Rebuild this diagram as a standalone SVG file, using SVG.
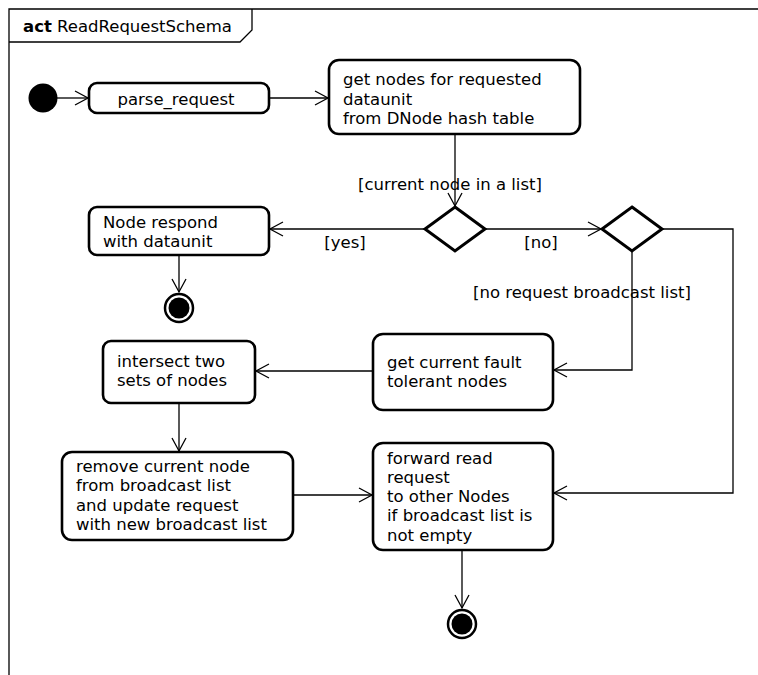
<svg xmlns="http://www.w3.org/2000/svg" width="758" height="675" viewBox="0 0 758 675">
<style>
.frame{fill:none;stroke:#000;stroke-width:1.3}
.box{fill:#fff;stroke:#000;stroke-width:2.6}
.dia{fill:#fff;stroke:#000;stroke-width:3}
.edge{fill:none;stroke:#000;stroke-width:1.3}
text{font-family:"DejaVu Sans",sans-serif;font-size:16.5px;fill:#000}
.c{text-anchor:middle}
</style>
<defs>
<marker id="arr" markerUnits="userSpaceOnUse" markerWidth="30" markerHeight="30" refX="14" refY="8" orient="auto">
<path d="M1,1 L14,8 L1,15" fill="none" stroke="#000" stroke-width="1.3"/>
</marker>
</defs>
<g id="frame">
<path class="frame" d="M9,675 V9 H758"/>
<path class="frame" d="M9,42 H240 L252,30 V9"/>
<text x="23" y="32"><tspan font-weight="bold">act</tspan> ReadRequestSchema</text>
</g>
<g id="connectors">
<path class="edge" d="M57,98 H88" marker-end="url(#arr)"/>
<path class="edge" d="M269,98 H328" marker-end="url(#arr)"/>
<path class="edge" d="M455,134 V206" marker-end="url(#arr)"/>
<path class="edge" d="M425,229 H270" marker-end="url(#arr)"/>
<path class="edge" d="M485,229 H601" marker-end="url(#arr)"/>
<path class="edge" d="M179,255 V292" marker-end="url(#arr)"/>
<path class="edge" d="M662,229 H733 V493 H554" marker-end="url(#arr)"/>
<path class="edge" d="M632,251 V370 H554" marker-end="url(#arr)"/>
<path class="edge" d="M373,371 H256" marker-end="url(#arr)"/>
<path class="edge" d="M179,403 V451" marker-end="url(#arr)"/>
<path class="edge" d="M293,495 H372" marker-end="url(#arr)"/>
<path class="edge" d="M462,550 V608" marker-end="url(#arr)"/>
<text class="c" x="450" y="190">[current node in a list]</text>
<text class="c" x="345" y="248">[yes]</text>
<text class="c" x="541" y="248">[no]</text>
<text class="c" x="582" y="298">[no request broadcast list]</text>
</g>
<g id="initial"><circle cx="43" cy="98" r="14.5" fill="#000"/></g>
<g id="parse_request">
<rect class="box" x="89" y="83" width="180" height="30" rx="8"/>
<text class="c" x="176" y="105">parse_request</text>
</g>
<g id="get_nodes">
<rect class="box" x="329" y="60" width="251" height="74" rx="10"/>
<text x="343" y="85">get nodes for requested</text>
<text x="343" y="105">dataunit</text>
<text x="343" y="124">from DNode hash table</text>
</g>
<g id="decision1"><path class="dia" d="M455,207 L485,229 L455,251 L425,229 Z"/></g>
<g id="decision2"><path class="dia" d="M632,207 L662,229 L632,251 L602,229 Z"/></g>
<g id="node_respond">
<rect class="box" x="89" y="207" width="180" height="48" rx="8"/>
<text x="103" y="228">Node respond</text>
<text x="103" y="247">with dataunit</text>
</g>
<g id="final1">
<circle cx="179" cy="308" r="14" fill="#fff" stroke="#000" stroke-width="2.5"/>
<circle cx="179" cy="308" r="10.5" fill="#000"/>
</g>
<g id="get_fault_tolerant">
<rect class="box" x="373" y="334" width="180" height="76" rx="10"/>
<text x="387" y="368">get current fault</text>
<text x="387" y="387">tolerant nodes</text>
</g>
<g id="intersect">
<rect class="box" x="103" y="341" width="152" height="62" rx="8"/>
<text x="117" y="367">intersect two</text>
<text x="117" y="386">sets of nodes</text>
</g>
<g id="remove_current">
<rect class="box" x="62" y="452" width="231" height="88" rx="10"/>
<text x="76" y="472">remove current node</text>
<text x="76" y="491">from broadcast list</text>
<text x="76" y="511">and update request</text>
<text x="76" y="530">with new broadcast list</text>
</g>
<g id="forward">
<rect class="box" x="373" y="443" width="180" height="107" rx="10"/>
<text x="387" y="464">forward read</text>
<text x="387" y="483">request</text>
<text x="387" y="502">to other Nodes</text>
<text x="387" y="521">if broadcast list is</text>
<text x="387" y="541">not empty</text>
</g>
<g id="final2">
<circle cx="462" cy="624" r="14" fill="#fff" stroke="#000" stroke-width="2.5"/>
<circle cx="462" cy="624" r="10.5" fill="#000"/>
</g>
</svg>
